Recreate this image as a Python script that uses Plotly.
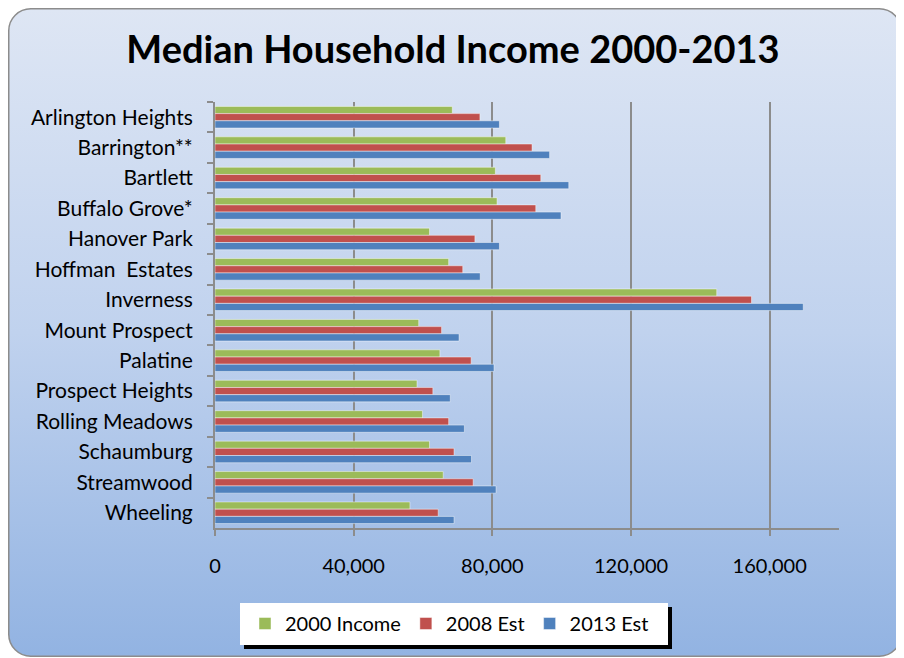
import base64
import plotly.graph_objects as go

towns = ["Arlington Heights", "Barrington**", "Bartlett", "Buffalo Grove*", "Hanover Park",
         "Hoffman  Estates", "Inverness", "Mount Prospect", "Palatine", "Prospect Heights",
         "Rolling Meadows", "Schaumburg", "Streamwood", "Wheeling"]
income_2000 = [68450, 83880, 80870, 81360, 61870, 67400, 144730, 58760, 64870, 58270, 59840, 61870, 65830, 56230]
est_2008 = [76420, 91450, 93980, 92530, 74970, 71470, 154760, 65360, 73890, 62840, 67400, 68950, 74470, 64380]
est_2013 = [82040, 96520, 102050, 99810, 82040, 76510, 169690, 70400, 80490, 67870, 71940, 73980, 81070, 68950]
series_names = ["2000 Income", "2008 Est", "2013 Est"]
series_colors = ["#9bbb59", "#c0504d", "#4f81bd"]
x_ticks = [0, 40000, 80000, 120000, 160000]

# page body has an 8px margin, so the figure is drawn at (8, 8)
W, H = 896, 650
L, R, T, B = 207, 65, 94, 130
PW, PH = W - L - R, H - T - B

svg = f'''<svg xmlns="http://www.w3.org/2000/svg" width="{W}" height="{H}" viewBox="0 0 {W} {H}">
<defs><linearGradient id="g" x1="0" y1="0" x2="0" y2="1">
<stop offset="0" stop-color="#dee6f4"/><stop offset="0.5" stop-color="#c0d2ee"/><stop offset="1" stop-color="#92b3e2"/>
</linearGradient></defs>
<rect x="0.75" y="0.75" width="892.5" height="647.5" rx="22" ry="22" fill="url(#g)" stroke="#8c8c8c" stroke-width="1.5"/>
<rect x="236" y="599" width="428" height="42" fill="#000"/>
<rect x="232" y="595" width="428" height="42" fill="#fff"/>
</svg>'''
src = "data:image/svg+xml;base64," + base64.b64encode(svg.encode()).decode()

fig = go.Figure()
for name, vals, col in zip(series_names, [income_2000, est_2008, est_2013], series_colors):
    fig.add_trace(go.Bar(y=towns, x=vals, name=name, orientation="h",
                         marker=dict(color=col, line=dict(color="rgba(255,255,255,0.45)", width=1))))

FONT = "Lato"
fig.update_layout(
    width=W, height=H,
    margin=dict(l=L, r=R, t=T, b=B),
    paper_bgcolor="white", plot_bgcolor="white",
    barmode="group", bargap=0.29, bargroupgap=0,
    font=dict(family=FONT, size=20, color="black"),
    title=dict(text="<b>Median Household Income 2000-2013</b>", x=445 / W, xanchor="center",
               yref="container", y=1 - 42 / H, yanchor="middle",
               font=dict(family=FONT, size=38, color="black")),
    xaxis=dict(range=[0, 180000], tickvals=x_ticks, tickformat=",", showgrid=True,
               gridcolor="#8c8c8c", gridwidth=1.5, showline=True, linecolor="#8c8c8c", linewidth=2,
               ticks="outside", ticklen=6, tickcolor="#8c8c8c", tickwidth=1.5,
               ticklabelstandoff=13, zeroline=False, tickfont=dict(size=20)),
    yaxis=dict(autorange="reversed", showline=True, linecolor="#8c8c8c", linewidth=2,
               ticks="outside", tickson="boundaries", ticklen=6, tickcolor="#8c8c8c", tickwidth=1.5,
               ticklabelstandoff=16, showgrid=False, tickfont=dict(size=21)),
    legend=dict(orientation="h", x=(237 - L) / PW, y=(H - B - 596) / PH, xanchor="left", yanchor="top",
                bgcolor="rgba(0,0,0,0)", borderwidth=0, font=dict(size=20), traceorder="normal"),
    images=[dict(source=src, xref="paper", yref="paper", x=-L / PW, y=1 + T / PH,
                 sizex=W / PW, sizey=H / PH, xanchor="left", yanchor="top",
                 sizing="stretch", layer="below")],
)
fig.write_html("out.html")
